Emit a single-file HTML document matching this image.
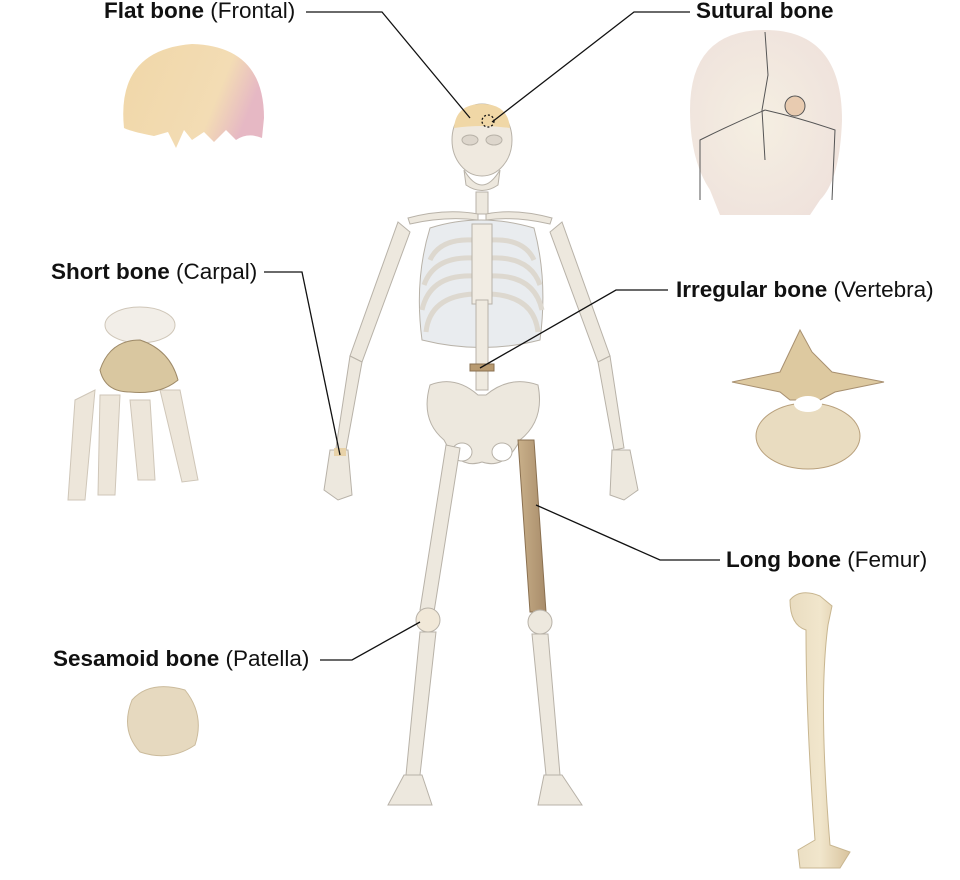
<!DOCTYPE html>
<html><head><style>
body{margin:0;background:#fff;width:960px;height:880px;overflow:hidden;font-family:"Liberation Sans",Arial,sans-serif}
svg{position:absolute;left:0;top:0}
.l{position:absolute;font-size:22.5px;color:#111;white-space:nowrap;line-height:26px}
.l b{font-weight:bold}
</style></head><body>
<svg width="960" height="880" viewBox="0 0 960 880">
<defs>
<linearGradient id="fb" x1="0" x2="1" y1="0" y2="0.3"><stop offset="0" stop-color="#f0d7a8"/><stop offset="0.75" stop-color="#f3dcb4"/><stop offset="1" stop-color="#e6b8c4"/></linearGradient>
<radialGradient id="sk" cx="0.45" cy="0.5" r="0.6"><stop offset="0" stop-color="#f5efe2"/><stop offset="1" stop-color="#efe2dc"/></radialGradient>
<linearGradient id="fem" x1="0" x2="1"><stop offset="0" stop-color="#e9dcc0"/><stop offset="0.5" stop-color="#f1e6cc"/><stop offset="1" stop-color="#d8c39d"/></linearGradient>
<linearGradient id="bf" x1="0" x2="1"><stop offset="0" stop-color="#c9b08a"/><stop offset="1" stop-color="#a88c6a"/></linearGradient>
</defs>
<g stroke="#b8b2a8" stroke-width="1" fill="#ede8de">
<ellipse cx="482" cy="140" rx="30" ry="36" fill="#efe9df"/>
<path d="M454,128 Q456,104 482,104 Q508,104 510,128 Q482,124 454,128Z" fill="#f0d7a6" stroke="none"/>
<path d="M464,170 Q482,200 500,170 L498,185 Q482,196 466,185Z"/>
<ellipse cx="470" cy="140" rx="8" ry="5" fill="#ddd6cc"/><ellipse cx="494" cy="140" rx="8" ry="5" fill="#ddd6cc"/>
<circle cx="488" cy="121" r="6" fill="none" stroke="#111" stroke-dasharray="2,2" stroke-width="1.3"/>
<rect x="476" y="192" width="12" height="22"/>
<path d="M408,218 Q445,208 478,214 L478,220 Q445,216 410,224Z"/>
<path d="M552,218 Q515,208 486,214 L486,220 Q515,216 550,224Z"/>
<path d="M430,228 Q480,212 534,228 Q548,280 540,340 Q482,355 422,340 Q414,280 430,228Z" fill="#e9ecef"/>
<g fill="none" stroke="#ddd8cf" stroke-width="5">
<path d="M474,240 Q440,238 430,260"/><path d="M490,240 Q524,238 534,260"/>
<path d="M474,258 Q434,256 424,285"/><path d="M490,258 Q530,256 540,285"/>
<path d="M474,276 Q430,274 422,310"/><path d="M490,276 Q534,274 542,310"/>
<path d="M474,294 Q430,296 426,332"/><path d="M490,294 Q534,296 538,332"/>
</g>
<rect x="472" y="224" width="20" height="80" fill="#f1ece3"/>
<rect x="476" y="300" width="12" height="90" fill="#efeae0"/>
<rect x="470" y="364" width="24" height="7" fill="#b89a70" stroke="#8a7050"/>
<path d="M430,385 Q455,375 478,395 L486,395 Q510,375 538,385 Q545,420 520,440 Q505,470 482,462 Q459,470 444,440 Q420,420 430,385Z"/>
<ellipse cx="462" cy="452" rx="10" ry="9" fill="#fff"/><ellipse cx="502" cy="452" rx="10" ry="9" fill="#fff"/>
<path d="M398,222 L410,232 L362,362 L350,356Z"/>
<path d="M562,222 L550,232 L598,362 L610,356Z"/>
<path d="M350,356 L362,362 L346,450 L336,448Z"/>
<path d="M610,356 L598,362 L614,450 L624,448Z"/>
<path d="M330,450 L348,450 L352,495 L338,500 L324,490Z"/>
<path d="M612,450 L630,450 L638,490 L624,500 L610,495Z"/>
<rect x="334" y="448" width="12" height="8" fill="#e8d2a8" stroke="none"/>
<path d="M446,445 L460,448 L434,612 L420,610Z"/>
<path d="M518,440 L534,440 L546,612 L530,612Z" fill="url(#bf)" stroke="#8a7050"/>
<ellipse cx="428" cy="620" rx="12" ry="12" fill="#f1e8d8"/>
<ellipse cx="540" cy="622" rx="12" ry="12"/>
<path d="M420,632 L436,632 L420,775 L406,775Z"/>
<path d="M532,634 L548,634 L560,775 L546,775Z"/>
<path d="M404,775 L422,775 L432,805 L388,805Z"/>
<path d="M544,775 L562,775 L582,805 L538,805Z"/>
</g>
<!-- frontal bone -->
<path d="M124,128 Q116,50 192,44 Q264,46 264,118 L262,138 Q248,132 236,140 L226,130 L214,142 L204,132 L192,140 L184,130 L176,148 L168,132 L154,136 Q132,132 124,128Z" fill="url(#fb)"/>
<!-- sutural skull -->
<path d="M690,110 Q690,30 765,30 Q842,30 842,120 Q840,180 820,200 L810,215 L720,215 L710,190 Q690,160 690,110Z" fill="url(#sk)"/>
<g fill="none" stroke="#555" stroke-width="1">
<path d="M765,32 L768,75 L762,110 L765,160"/>
<path d="M765,110 Q730,125 700,140 L700,200"/>
<path d="M765,110 Q800,118 835,130 L832,200"/>
</g>
<circle cx="795" cy="106" r="10" fill="#e8cbb0" stroke="#555"/>
<!-- carpal -->
<g fill="#ede6da" stroke="#cfc6b8">
<ellipse cx="140" cy="325" rx="35" ry="18" fill="#f2eee8"/>
<path d="M75,400 L95,390 L85,500 L68,500Z"/>
<path d="M100,395 L120,395 L115,495 L98,495Z"/>
<path d="M130,400 L150,400 L155,480 L138,480Z"/>
<path d="M160,390 L180,390 L198,480 L182,482Z"/>
</g>
<path d="M100,370 Q110,340 140,340 Q170,350 178,380 Q160,395 130,392 Q105,392 100,370Z" fill="#d9c7a0" stroke="#9e8a68"/>
<!-- vertebra -->
<path d="M732,382 L780,372 L800,330 L812,352 L832,372 L884,382 L835,392 L820,400 L790,400 L780,392Z" fill="#ddc9a0" stroke="#a89070"/>
<ellipse cx="808" cy="436" rx="52" ry="33" fill="#e9dcc0" stroke="#b8a07c"/>
<ellipse cx="808" cy="404" rx="14" ry="8" fill="#fff"/>
<!-- femur -->
<path d="M790,600 Q800,588 820,596 L832,606 L828,625 Q818,700 830,845 L850,852 L840,868 L800,868 L798,850 L815,840 Q806,720 806,630 Q790,625 790,600Z" fill="url(#fem)" stroke="#c8b690"/>
<!-- patella -->
<path d="M132,700 Q150,680 185,690 Q205,715 195,745 Q170,762 140,752 Q120,730 132,700Z" fill="#e6d9bf" stroke="#cbbb9c"/>
<g stroke="#111" stroke-width="1.3" fill="none">
<polyline points="306,12 382,12 470,118"/>
<polyline points="690,12 634,12 492,122"/>
<polyline points="264,272 302,272 340,455"/>
<polyline points="668,290 616,290 480,368"/>
<polyline points="720,560 660,560 536,505"/>
<polyline points="320,660 352,660 420,622"/>
</g>
</svg>
<div class="l" style="left:104px;top:-2px"><b>Flat bone</b> (Frontal)</div>
<div class="l" style="left:696px;top:-2px"><b>Sutural bone</b></div>
<div class="l" style="left:51px;top:259px"><b>Short bone</b> (Carpal)</div>
<div class="l" style="left:676px;top:277px"><b>Irregular bone</b> (Vertebra)</div>
<div class="l" style="left:726px;top:547px"><b>Long bone</b> (Femur)</div>
<div class="l" style="left:53px;top:646px"><b>Sesamoid bone</b> (Patella)</div>
</body></html>
